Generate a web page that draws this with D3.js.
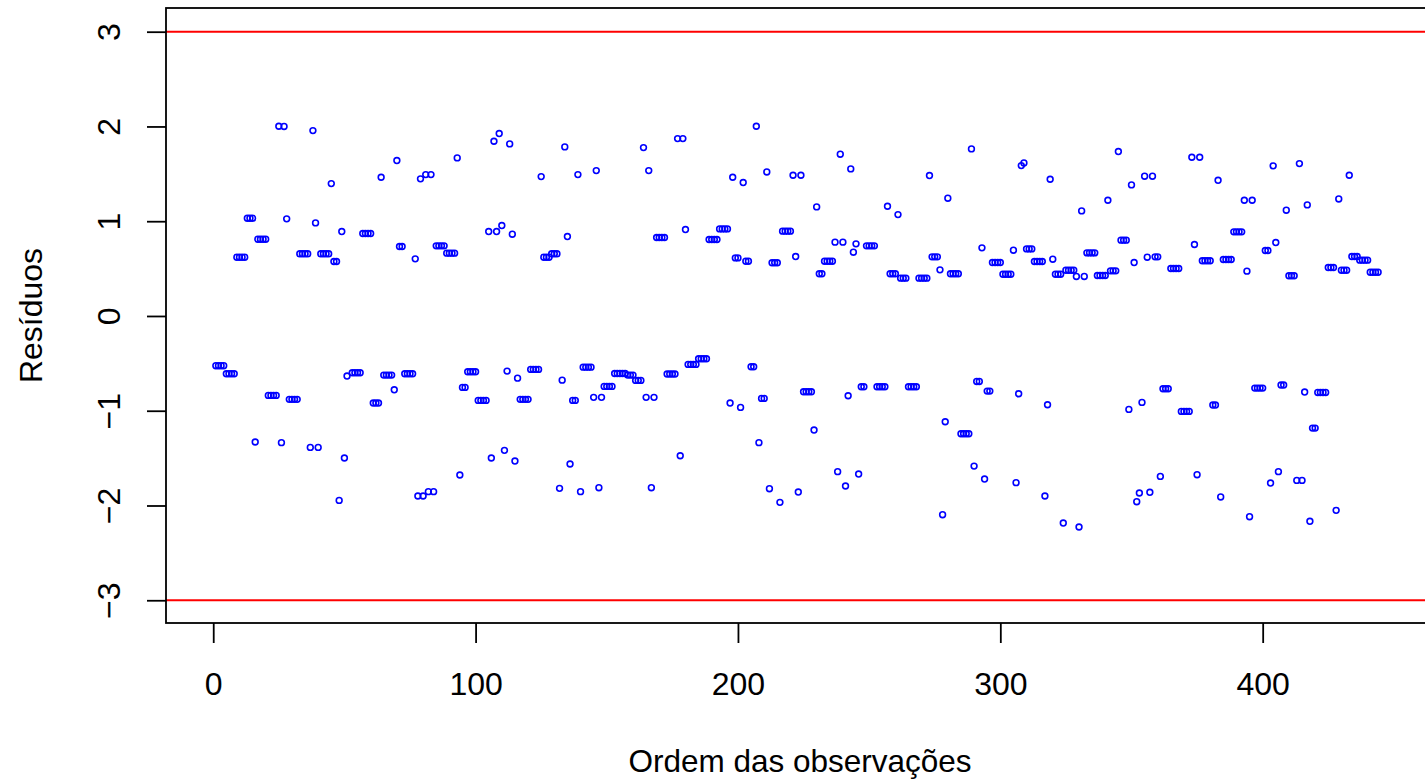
<!DOCTYPE html>
<html>
<head>
<meta charset="utf-8">
<script src="https://cdn.jsdelivr.net/npm/d3@7"></script>
<style>
  body { margin: 0; background: #fff; }
  svg text { font-family: "Liberation Sans", Arial, sans-serif; fill: #000; }
</style>
</head>
<body>
<div id="plot"></div>
<script>
////////////////////////////////////////////////////////////////////////
// Data read off the picture: residuals in observation order.
// Consecutive observations sharing the same residual are kept as runs:
// runStart = first observation, runLength = how many, runValue = residual

let runStart = [
  1, 5, 9, 13, 16, 17, 21, 25, 26, 27, 28, 29, 33, 37, 38, 39, 40, 41, 45, 46,
  48, 49, 50, 51, 53, 57, 61, 64, 65, 69, 70, 71, 73, 77, 78, 79, 80, 81, 82, 83,
  84, 85, 89, 93, 94, 95, 97, 101, 105, 106, 107, 108, 109, 110, 111, 112, 113, 114, 115, 116,
  117, 121, 125, 126, 129, 132, 133, 134, 135, 136, 137, 139, 140, 141, 145, 146, 147, 148, 149, 153,
  158, 161, 164, 165, 166, 167, 168, 169, 173, 177, 178, 179, 180, 181, 185, 189, 193, 197, 198, 199,
  201, 202, 203, 205, 207, 208, 209, 211, 212, 213, 216, 217, 221, 222, 223, 224, 225, 229, 230, 231,
  233, 237, 238, 239, 240, 241, 242, 243, 244, 245, 246, 247, 249, 253, 257, 258, 261, 262, 265, 269,
  273, 274, 277, 278, 279, 280, 281, 285, 289, 290, 291, 293, 294, 295, 297, 301, 305, 306, 307, 308,
  309, 310, 313, 317, 318, 319, 320, 321, 324, 325, 329, 330, 331, 332, 333, 337, 341, 342, 345, 346,
  349, 350, 351, 352, 353, 354, 355, 356, 357, 358, 359, 361, 362, 365, 369, 373, 374, 375, 376, 377,
  381, 383, 384, 385, 389, 393, 394, 395, 396, 397, 401, 403, 404, 405, 406, 407, 409, 410, 413, 414,
  415, 416, 417, 418, 419, 421, 425, 428, 429, 430, 433, 434, 437, 441
];

let runLength = [
  4, 4, 4, 3, 1, 4, 4, 1, 1, 1, 1, 4, 4, 1, 1, 1, 1, 4, 1, 2,
  1, 1, 1, 1, 4, 4, 3, 1, 4, 1, 1, 2, 4, 1, 1, 1, 1, 1, 1, 1,
  1, 4, 4, 1, 1, 2, 4, 4, 1, 1, 1, 1, 1, 1, 1, 1, 1, 1, 1, 1,
  4, 4, 1, 3, 3, 1, 1, 1, 1, 1, 2, 1, 1, 4, 1, 1, 1, 1, 4, 5,
  3, 3, 1, 1, 1, 1, 1, 4, 4, 1, 1, 1, 1, 4, 4, 4, 4, 1, 1, 2,
  1, 1, 2, 2, 1, 1, 2, 1, 1, 3, 1, 4, 1, 1, 1, 1, 4, 1, 1, 2,
  4, 1, 1, 1, 1, 1, 1, 1, 1, 1, 1, 2, 4, 4, 1, 3, 1, 3, 4, 4,
  1, 3, 1, 1, 1, 1, 4, 4, 1, 1, 2, 1, 1, 2, 4, 4, 1, 1, 1, 1,
  1, 3, 4, 1, 1, 1, 1, 3, 1, 4, 1, 1, 1, 1, 4, 4, 1, 3, 1, 3,
  1, 1, 1, 1, 1, 1, 1, 1, 1, 1, 2, 1, 3, 4, 4, 1, 1, 1, 1, 4,
  2, 1, 1, 4, 4, 1, 1, 1, 1, 4, 2, 1, 1, 1, 1, 2, 1, 3, 1, 1,
  1, 1, 1, 1, 2, 4, 3, 1, 1, 3, 1, 3, 4, 4
];

let runValue = [
  -0.525, -0.610, 0.620, 1.032, -1.330, 0.810, -0.838, 2.002, -1.337, 2.000,
  1.025, -0.880, 0.656, -1.387, 1.956, 0.982, -1.387, 0.656, 1.397, 0.575,
  -1.946, 0.891, -1.499, -0.634, -0.599, 0.870, -0.919, 1.464, -0.624, -0.779,
  1.640, 0.733, -0.610, 0.603, -1.900, 1.447, -1.900, 1.492, -1.854, 1.492,
  -1.854, 0.740, 0.663, 1.668, -1.678, -0.754, -0.589, -0.891, 0.891, -1.499,
  1.844, 0.891, 1.925, 0.954, -1.418, -0.582, 1.816, 0.863, -1.531, -0.656,
  -0.880, -0.564, 1.471, 0.620, 0.656, -1.819, -0.677, 1.784, 0.838, -1.562,
  -0.891, 1.492, -1.854, -0.540, -0.859, 1.534, -1.812, -0.859, -0.743, -0.607,
  -0.624, -0.680, 1.777, -0.859, 1.534, -1.812, -0.859, 0.828, -0.613, 1.872,
  -1.475, 1.872, 0.912, -0.511, -0.452, 0.807, 0.919, -0.919, 1.464, 0.613,
  -0.965, 1.408, 0.578, -0.536, 2.002, -1.337, -0.870, 1.520, -1.823, 0.561,
  -1.967, 0.895, 1.485, 0.627, -1.858, 1.485, -0.800, -1.204, 1.151, 0.445,
  0.578, 0.779, -1.643, 1.707, 0.779, -1.794, -0.842, 1.552, 0.673, 0.761,
  -1.668, -0.747, 0.740, -0.747, 1.158, 0.445, 1.070, 0.399, -0.747, 0.399,
  1.482, 0.624, 0.487, -2.097, -1.116, 1.243, 0.445, -1.243, 1.763, -1.584,
  -0.691, 0.719, -1.721, -0.793, 0.564, 0.441, 0.694, -1.759, -0.821, 1.587,
  1.615, 0.708, 0.575, -1.900, -0.937, 1.443, 0.599, 0.441, -2.185, 0.483,
  0.417, -2.227, 1.109, 0.417, 0.666, 0.427, 1.221, 0.476, 1.735, 0.800,
  -0.986, 1.383, 0.564, -1.960, -1.868, -0.912, 1.475, 0.620, -1.861, 1.475,
  0.624, -1.693, -0.768, 0.501, -1.007, 1.675, 0.754, -1.675, 1.675, 0.582,
  -0.940, 1.432, -1.910, 0.596, 0.888, 1.221, 0.473, -2.118, 1.221, -0.761,
  0.691, -1.763, 1.584, 0.775, -1.643, -0.729, 1.116, 0.424, -1.735, 1.608,
  -1.735, -0.803, 1.172, -2.167, -1.183, -0.807, 0.511, -2.051, 1.235, 0.483,
  1.485, 0.627, 0.589, 0.462
];

let xTicks = [0, 100, 200, 300, 400];
let yTicks = [-3, -2, -1, 0, 1, 2, 3];
let limits = [-3, 3];   // red reference lines

// expand runs into one point per observation
let data = [];
runStart.forEach((s, i) => {
  for (let k = 0; k < runLength[i]; k++) {
    data.push({ ordem: s + k, residuo: runValue[i] });
  }
});

////////////////////////////////////////////////////////////////////////
// SVG Setup

let width = 1425;
let height = 780;
let plot = { left: 166, top: 8, right: 1434, bottom: 623 };

let svg = d3.select("#plot")
  .append("svg")
  .attr("width", width).attr("height", height);

let xScale = d3.scaleLinear().domain([-18, 465.3]).range([plot.left, plot.right]);
let yScale = d3.scaleLinear().domain([-3.24, 3.25]).range([plot.bottom, plot.top]);

////////////////////////////////////////////////////////////////////////
// Reference lines and points

svg.selectAll(".limit")
  .data(limits)
  .enter().append("line")
  .attr("class", "limit")
  .attr("x1", plot.left).attr("x2", plot.right)
  .attr("y1", d => yScale(d)).attr("y2", d => yScale(d))
  .style("stroke", "#ff0000")
  .style("stroke-width", 2);

svg.append("g")
  .selectAll("circle")
  .data(data)
  .enter().append("circle")
  .attr("cx", d => xScale(d.ordem))
  .attr("cy", d => yScale(d.residuo))
  .attr("r", 2.9)
  .style("fill", "none")
  .style("stroke", "#0000ff")
  .style("stroke-width", 1.6);

// box round the plot region
svg.append("rect")
  .attr("x", plot.left).attr("y", plot.top)
  .attr("width", plot.right - plot.left).attr("height", plot.bottom - plot.top)
  .style("fill", "none")
  .style("stroke", "#000")
  .style("stroke-width", 1.8);

////////////////////////////////////////////////////////////////////////
// Axes

let xAxis = svg.append("g")
  .attr("transform", `translate(0,${plot.bottom})`)
  .call(d3.axisBottom(xScale).tickValues(xTicks).tickSize(20).tickSizeOuter(0)
    .tickPadding(29).tickFormat(d3.format("d")));

let yAxis = svg.append("g")
  .attr("transform", `translate(${plot.left},0)`)
  .call(d3.axisLeft(yScale).tickValues(yTicks).tickSize(19).tickSizeOuter(0)
    .tickFormat(d3.format("d")));

[xAxis, yAxis].forEach(ax => {
  ax.select(".domain").remove();
  ax.selectAll(".tick line").style("stroke", "#000").style("stroke-width", 1.8);
  ax.selectAll(".tick text")
    .style("font-size", "32px")
    .style("font-family", "'Liberation Sans', Arial, sans-serif");
});

// R draws the y labels parallel to the axis
yAxis.selectAll(".tick text")
  .attr("transform", "rotate(-90)")
  .attr("x", 0).attr("y", -46).attr("dy", 0)
  .attr("text-anchor", "middle");

svg.append("text")
  .attr("x", (plot.left + plot.right) / 2)
  .attr("y", 772)
  .attr("text-anchor", "middle")
  .style("font-size", "31.5px")
  .text("Ordem das observações");

svg.append("text")
  .attr("transform", `translate(41.5,${(plot.top + plot.bottom) / 2}) rotate(-90)`)
  .attr("text-anchor", "middle")
  .style("font-size", "32px")
  .text("Resíduos");
</script>
</body>
</html>
